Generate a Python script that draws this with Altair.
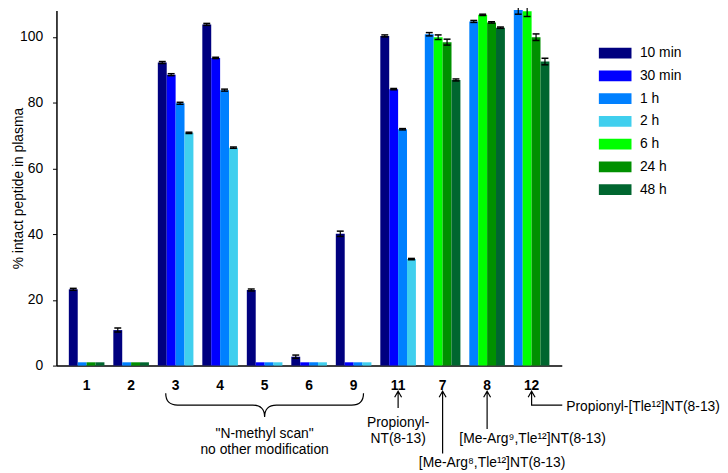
import altair as alt
import pandas as pd

# ---- data -------------------------------------------------------------
groups = ["1", "2", "3", "4", "5", "6", "9", "11", "7", "8", "12"]
times = ["10 min", "30 min", "1 h", "2 h", "6 h", "24 h", "48 h"]
colors = ["#00007F", "#0000FF", "#0080FF", "#40CFEE", "#00FF00", "#009000", "#00662F"]

t_early = ["10 min", "1 h", "24 h", "48 h"]
t_scan = ["10 min", "30 min", "1 h", "2 h"]
t_late = ["1 h", "6 h", "24 h", "48 h"]
group_times = [t_early, t_early, t_scan, t_scan, t_scan, t_scan, t_scan, t_scan,
               t_late, t_late, t_late]

values = [
    [23.2, 1.0, 1.0, 1.0],        # 1
    [10.8, 1.0, 1.0, 1.0],        # 2
    [92.2, 88.5, 79.8, 70.8],     # 3
    [103.8, 93.6, 83.8, 66.3],    # 4
    [23.0, 1.0, 1.0, 1.0],        # 5
    [2.7, 1.0, 1.0, 1.0],         # 6
    [40.1, 1.0, 1.0, 1.0],        # 9
    [100.3, 84.1, 71.9, 32.4],    # 11
    [100.8, 99.9, 98.4, 86.9],    # 7
    [104.7, 106.7, 104.4, 102.8], # 8
    [108.2, 107.8, 99.9, 92.5],   # 12
]
errors = [
    [0.3, 0, 0, 0],
    [0.6, 0, 0, 0],
    [0.3, 0.3, 0.3, 0.2],
    [0.3, 0.2, 0.3, 0.2],
    [0.3, 0, 0, 0],
    [0.5, 0, 0, 0],
    [0.8, 0, 0, 0],
    [0.3, 0.2, 0.2, 0.2],
    [0.5, 0.7, 0.9, 0.3],
    [0.3, 0.2, 0.2, 0.2],
    [1.3, 1.6, 1.0, 1.0],
]

rows = []
for g, ts, vs, es in zip(groups, group_times, values, errors):
    for slot, (t, v, e) in enumerate(zip(ts, vs, es)):
        rows.append({"group": g, "slot": slot, "time": t, "value": v, "err": e,
                     "lo": v - e, "hi": v + e})
df = pd.DataFrame(rows)
df_err = df[df["err"] > 0]

FONT = "Liberation Sans"
YTITLE = "% intact peptide in plasma"


def X():
    return alt.X(
        "group:N", sort=groups,
        scale=alt.Scale(domain=groups, paddingInner=0.2, paddingOuter=0.278),
        axis=alt.Axis(title=None, labelAngle=0, labelFontWeight="bold", labelFontSize=14,
                      labelColor="black", ticks=False, labelPadding=13,
                      domainColor="black", domainWidth=1.5),
    )


def XO():
    return alt.XOffset("slot:O", scale=alt.Scale(domain=[0, 1, 2, 3], paddingInner=0, paddingOuter=0))


yscale = alt.Scale(domain=[0, 108], nice=False, zero=True)


def Y(field):
    return alt.Y(
        field, scale=yscale, title=YTITLE,
        axis=alt.Axis(values=[0, 20, 40, 60, 80, 100], grid=False, tickSize=4, tickColor="black",
                      labelFontSize=14, labelColor="black", labelPadding=10,
                      domainColor="black", domainWidth=1.5,
                      titleFontSize=14, titleFontWeight="normal", titleColor="black",
                      titlePadding=-6),
    )


bars = alt.Chart(df).mark_bar(stroke=None).encode(
    x=X(), xOffset=XO(), y=Y("value:Q"),
    color=alt.Color("time:N", scale=alt.Scale(domain=times, range=colors),
                    legend=alt.Legend(title=None, orient="none", legendX=558, legendY=36,
                                      symbolType="M-3,-1 L3,-1 L3,1 L-3,1 Z", symbolSize=121,
                                      symbolStrokeWidth=0, labelFontSize=14, labelColor="black",
                                      labelOffset=18, rowPadding=9, padding=0)),
)

err_rule = alt.Chart(df_err).mark_rule(color="black", strokeWidth=1.2).encode(
    x=X(), xOffset=XO(), y=Y("lo:Q"), y2="hi:Q")
cap_hi = alt.Chart(df_err).mark_tick(color="black", size=7, thickness=1.5, opacity=1).encode(
    x=X(), xOffset=XO(), y=Y("hi:Q"))
cap_lo = alt.Chart(df_err).mark_tick(color="black", size=7, thickness=1.5, opacity=1).encode(
    x=X(), xOffset=XO(), y=Y("lo:Q"))

# ---- annotations (layout below the axis) ------------------------------
def label(group, text, ypix, dx=0, align="center"):
    return alt.Chart(pd.DataFrame({"group": [group], "t": [text]})).mark_text(
        font=FONT, fontSize=14, color="black", align=align, baseline="middle", dx=dx
    ).encode(x=X(), y=alt.value(ypix), text="t:N")


def shape(group, path, ypix, sw=1.2):
    return alt.Chart(pd.DataFrame({"group": [group]})).mark_point(
        shape=path, size=4, filled=False, stroke="black", strokeWidth=sw, opacity=1
    ).encode(x=X(), y=alt.value(ypix))


head = "M-3.5,6 L0,0 L3.5,6 "
brace = "M-100,-12 Q-100,0 -88,0 L-12,0 Q0,0 0,12 Q0,0 12,0 L88,0 Q100,0 100,-12"

annots = [
    shape("5", brace, 399),
    label("5", '"N-methyl scan"', 428),
    label("5", "no other modification", 444),
    shape("11", head + "M0,0 L0,17", 385),
    label("11", "Propionyl-", 417),
    label("11", "NT(8-13)", 433),
    shape("7", head + "M0,0 L0,63", 385),
    label("7", "[Me-Arg⁸,Tle¹²]NT(8-13)", 458, dx=50),
    shape("8", head + "M0,0 L0,38", 385),
    label("8", "[Me-Arg⁹,Tle¹²]NT(8-13)", 433, dx=46),
    shape("12", head + "M0,0 L0,14 L31,14", 385),
    label("12", "Propionyl-[Tle¹²]NT(8-13)", 401, dx=35, align="left"),
]

chart = alt.layer(bars, err_rule, cap_hi, cap_lo, *annots).properties(
    width=511, height=359,
    autosize=alt.AutoSizeParams(type="none"),
    padding={"left": 49, "top": 0, "right": 160, "bottom": 105},
).configure(font=FONT).configure_view(stroke=None)

chart.save("out.html", embed_options={"renderer": "svg", "actions": False})
